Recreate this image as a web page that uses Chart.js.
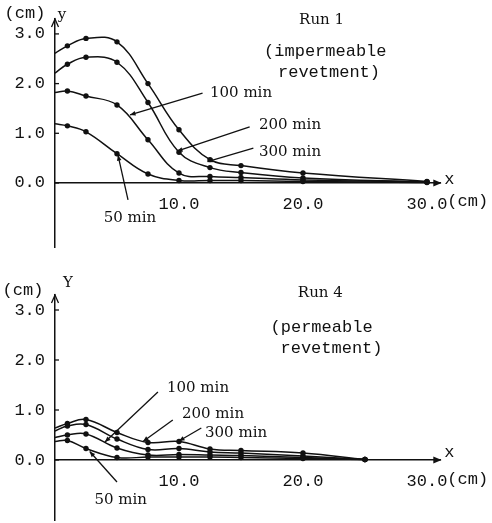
<!DOCTYPE html>
<html lang="en">
<head>
<meta charset="UTF-8">
<title>Run 1 / Run 4 bed profiles</title>
<script src="https://cdn.jsdelivr.net/npm/chart.js"></script>
<style>
  html, body { margin: 0; padding: 0; background: #fff; overflow: hidden; }
  #page { position: relative; width: 492px; height: 523px; overflow: hidden; }
  #page canvas { position: absolute; left: 0; display: block; }
  #run1 { top: -5px; }
  #run4 { top: 261px; }
</style>
</head>
<body>
<div id="page">
  <canvas id="run1" width="492" height="275"></canvas>
  <canvas id="run4" width="492" height="282"></canvas>
</div>
<script>
// distance x (cm) of the measured points
const xRun1 = [0, 1, 2.5, 5, 7.5, 10, 12.5, 15, 20, 30];
const xRun4 = [0, 1, 2.5, 5, 7.5, 10, 12.5, 15, 20, 25];

// Run 1 (impermeable revetment), y (cm)
const run1_50 = [1.19, 1.15, 1.03, 0.59, 0.18, 0.05, 0.05, 0.05, 0.03, 0.01];
const run1_100 = [1.82, 1.85, 1.75, 1.57, 0.87, 0.20, 0.13, 0.11, 0.06, 0.02];
const run1_200 = [2.21, 2.39, 2.53, 2.43, 1.62, 0.62, 0.31, 0.21, 0.10, 0.02];
const run1_300 = [2.61, 2.76, 2.91, 2.84, 2.00, 1.07, 0.47, 0.35, 0.20, 0.03];

// Run 4 (permeable revetment), y (cm)
const run4_50 = [0.37, 0.39, 0.23, 0.05, 0.06, 0.06, 0.06, 0.05, 0.03, 0.01];
const run4_100 = [0.45, 0.50, 0.52, 0.24, 0.10, 0.11, 0.10, 0.09, 0.05, 0.01];
const run4_200 = [0.58, 0.68, 0.71, 0.42, 0.21, 0.23, 0.16, 0.14, 0.08, 0.01];
const run4_300 = [0.64, 0.73, 0.81, 0.55, 0.35, 0.37, 0.22, 0.19, 0.14, 0.01];

const seriesNames = ['50 min', '100 min', '200 min', '300 min'];
const xTicks = [10, 20, 30];
const yTicks = [-1, 0, 1, 2, 3];

const ink = '#111';
const monoFont = { family: '"Liberation Mono", monospace', size: 17 };

// labels + leader lines, placed in data units
const notesRun1 = {
  titles: [
    { text: 'Run 1', at: [21.5, 3.28], serif: true },
    { text: '(impermeable', at: [21.8, 2.64] },
    { text: 'revetment)', at: [22.1, 2.23] }
  ],
  leaders: [
    { text: '100 min', at: [12.5, 1.81], from: [11.9, 1.81], to: [6.05, 1.37] },
    { text: '200 min', at: [16.45, 1.17], from: [15.7, 1.13], to: [9.84, 0.64] },
    { text: '300 min', at: [16.45, 0.62], from: [16.0, 0.70], to: [12.3, 0.43] },
    { text: '50 min', at: [6.05, -0.70], from: [5.89, -0.34], to: [5.08, 0.56], center: true }
  ],
  axisNames: [
    { text: '(cm)', at: [-2.42, 3.42] },
    { text: 'y', at: [0.56, 3.38], serif: true },
    { text: 'x', at: [31.8, 0.07] }
  ]
};

const notesRun4 = {
  titles: [
    { text: 'Run 4', at: [21.4, 3.34], serif: true },
    { text: '(permeable', at: [21.5, 2.66] },
    { text: 'revetment)', at: [22.3, 2.24] }
  ],
  leaders: [
    { text: '100 min', at: [9.03, 1.44], from: [8.3, 1.36], to: [4.03, 0.36] },
    { text: '200 min', at: [10.24, 0.92], from: [9.5, 0.80], to: [7.1, 0.37] },
    { text: '300 min', at: [12.1, 0.54], from: [11.8, 0.64], to: [10.0, 0.38] },
    { text: '50 min', at: [5.3, -0.80], from: [5.0, -0.44], to: [2.8, 0.17], center: true }
  ],
  axisNames: [
    { text: '(cm)', at: [-2.58, 3.4] },
    { text: 'Y', at: [1.05, 3.54], serif: true },
    { text: 'x', at: [31.8, 0.16] }
  ]
};

function arrowHead(ctx, x0, y0, x1, y1, size) {
  const a = Math.atan2(y1 - y0, x1 - x0);
  ctx.beginPath();
  ctx.moveTo(x1, y1);
  ctx.lineTo(x1 - size * Math.cos(a - 0.4), y1 - size * Math.sin(a - 0.4));
  ctx.lineTo(x1 - size * Math.cos(a + 0.4), y1 - size * Math.sin(a + 0.4));
  ctx.closePath();
  ctx.fill();
}

const notesPlugin = {
  id: 'notes',
  afterDraw(chart, args, opts) {
    const { ctx, chartArea: area, scales: { x, y } } = chart;
    const px = v => x.getPixelForValue(v);
    const py = v => y.getPixelForValue(v);
    const mono = '17px "Liberation Mono", monospace';
    const serif = '15px "DejaVu Serif", serif';
    ctx.save();
    ctx.strokeStyle = ink;
    ctx.fillStyle = ink;
    ctx.lineWidth = 1.3;

    // little ticks on the inner side of the y axis
    y.ticks.forEach(t => {
      ctx.beginPath();
      ctx.moveTo(area.left, py(t.value));
      ctx.lineTo(area.left + 4, py(t.value));
      ctx.stroke();
    });

    // axis arrows
    const y0 = py(0);
    ctx.beginPath();
    ctx.moveTo(area.left - 3.5, area.top + 8);
    ctx.lineTo(area.left, area.top);
    ctx.lineTo(area.left + 3.5, area.top + 8);
    ctx.stroke();
    arrowHead(ctx, area.right - 10, y0, area.right + 1, y0, 9);

    // unit after the last x label
    ctx.font = mono;
    ctx.textBaseline = 'middle';
    ctx.textAlign = 'left';
    const last = xTicks[xTicks.length - 1];
    const w = ctx.measureText(last.toFixed(1)).width;
    ctx.fillText('(cm)', px(last) + w / 2, y0 + 19);

    opts.titles.concat(opts.axisNames).forEach(n => {
      ctx.font = n.serif ? serif : mono;
      ctx.textAlign = 'center';
      ctx.fillText(n.text, px(n.at[0]), py(n.at[1]));
    });

    opts.leaders.forEach(n => {
      const fx = px(n.from[0]), fy = py(n.from[1]);
      const tx = px(n.to[0]), ty = py(n.to[1]);
      ctx.beginPath();
      ctx.moveTo(fx, fy);
      ctx.lineTo(tx, ty);
      ctx.stroke();
      arrowHead(ctx, fx, fy, tx, ty, 6);
      ctx.font = serif;
      ctx.textAlign = n.center ? 'center' : 'left';
      ctx.fillText(n.text, px(n.at[0]), py(n.at[1]));
    });
    ctx.restore();
  }
};

function makeChart(id, xs, columns, yMin, pad, notes) {
  const datasets = columns.map((vals, k) => ({
    label: seriesNames[k],
    data: xs.map((v, i) => ({ x: v, y: vals[i] })),
    borderColor: ink,
    borderWidth: 1.5,
    backgroundColor: ink,
    pointBackgroundColor: ink,
    pointBorderWidth: 0,
    pointRadius: c => c.dataIndex === 0 ? 0 : 2.7,
    tension: 0.4,
    fill: false
  }));
  return new Chart(document.getElementById(id), {
    type: 'line',
    data: { datasets: datasets },
    options: {
      responsive: false,
      animation: false,
      layout: { padding: pad },
      plugins: {
        legend: { display: false },
        tooltip: { enabled: false },
        notes: notes
      },
      scales: {
        x: {
          type: 'linear',
          min: 0,
          max: 31.1,
          position: { y: 0 },
          grid: { display: false, drawTicks: false },
          border: { display: true, color: ink, width: 1.5 },
          afterBuildTicks: s => { s.ticks = xTicks.map(v => ({ value: v })); },
          ticks: {
            padding: 11,
            color: ink,
            font: monoFont,
            maxRotation: 0,
            autoSkip: false,
            callback: v => v.toFixed(1)
          }
        },
        y: {
          type: 'linear',
          min: yMin,
          max: 3.3,
          afterFit: s => { s.width = 55; },
          afterBuildTicks: s => { s.ticks = yTicks.map(v => ({ value: v })); },
          grid: { display: false, drawTicks: false },
          border: { display: true, color: ink, width: 1.5 },
          ticks: {
            padding: 10,
            color: ink,
            font: monoFont,
            callback: v => v < 0 ? null : v.toFixed(1)
          }
        }
      }
    },
    plugins: [notesPlugin]
  });
}

// canvas 1 sits 5px above the page top, canvas 2 starts at 261px
makeChart('run1', xRun1, [run1_50, run1_100, run1_200, run1_300], -1.3,
  { top: 24, bottom: 22.4, left: 0, right: 51.4 }, notesRun1);
makeChart('run4', xRun4, [run4_50, run4_100, run4_200, run4_300], -1.2,
  { top: 34, bottom: 23, left: 0, right: 51.4 }, notesRun4);
</script>
</body>
</html>
